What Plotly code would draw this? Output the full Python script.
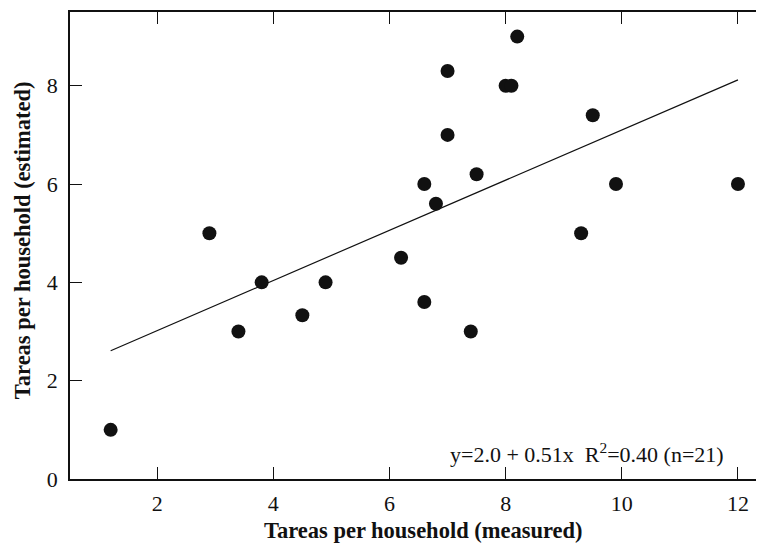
import plotly.graph_objects as go

measured = [1.2, 2.9, 3.4, 3.8, 4.5, 4.9, 6.2, 6.6, 6.6, 6.8, 7.0, 7.0, 7.4, 7.5, 8.0, 8.1, 8.2, 9.3, 9.5, 9.9, 12.0]
estimated = [1.0, 5.0, 3.0, 4.0, 3.33, 4.0, 4.5, 6.0, 3.6, 5.6, 7.0, 8.3, 3.0, 6.2, 8.0, 8.0, 9.0, 5.0, 7.4, 6.0, 6.0]
fit_x = [1.2, 12.0]
fit_y = [2.61, 8.12]
x_ticks = [2, 4, 6, 8, 10, 12]
y_ticks = [0, 2, 4, 6, 8]
fit_label = "y=2.0 + 0.51x  R<sup>2</sup>=0.40 (n=21)"
x_title = "Tareas per household (measured)"
y_title = "Tareas per household (estimated)"

FONT = "Liberation Serif, Times New Roman, serif"
INK = "#111111"

# plot area in figure pixels (page is offset by the 8px body margin)
L, T, B = 62, 4, 471
W, H = 764, 547
PW, PH = W - L, B - T


def px(x):
    return (x - L) / PW


def py(y):
    return (B - y) / PH


fig = go.Figure()
fig.add_trace(go.Scatter(x=fit_x, y=fit_y, mode="lines",
                         line=dict(color=INK, width=1.2), hoverinfo="skip"))
fig.add_trace(go.Scatter(x=measured, y=estimated, mode="markers",
                         marker=dict(color=INK, size=14, line=dict(width=0))))

axis_common = dict(showline=True, linecolor=INK, linewidth=1.5, mirror="ticks",
                   ticks="inside", ticklen=12, tickwidth=1.2, tickcolor=INK,
                   showgrid=False, zeroline=False,
                   tickfont=dict(family=FONT, size=22, color=INK))

fig.update_xaxes(range=[0.5, 0.5 + PW / 58.25], tickvals=x_ticks, ticklabelstandoff=4, **axis_common)
fig.update_yaxes(range=[0, 9.5], tickvals=y_ticks, ticklabelstandoff=6, **axis_common)

fig.add_annotation(text=fit_label, xref="paper", yref="paper", x=px(720), y=py(445),
                   xanchor="right", yanchor="middle", showarrow=False,
                   font=dict(family=FONT, size=22, color=INK))
fig.add_annotation(text="<b>" + x_title + "</b>", xref="paper", yref="paper",
                   x=px(417), y=py(522), xanchor="center", yanchor="middle",
                   showarrow=False, font=dict(family=FONT, size=22.5, color=INK))
fig.add_annotation(text="<b>" + y_title + "</b>", xref="paper", yref="paper",
                   x=px(14), y=py(232), xanchor="center", yanchor="middle",
                   textangle=-90, showarrow=False,
                   font=dict(family=FONT, size=22.5, color=INK))

fig.update_layout(width=W, height=H, margin=dict(l=L, r=0, t=T, b=H - B, pad=0),
                  paper_bgcolor="white", plot_bgcolor="white", showlegend=False)

fig.write_html("out.html")
